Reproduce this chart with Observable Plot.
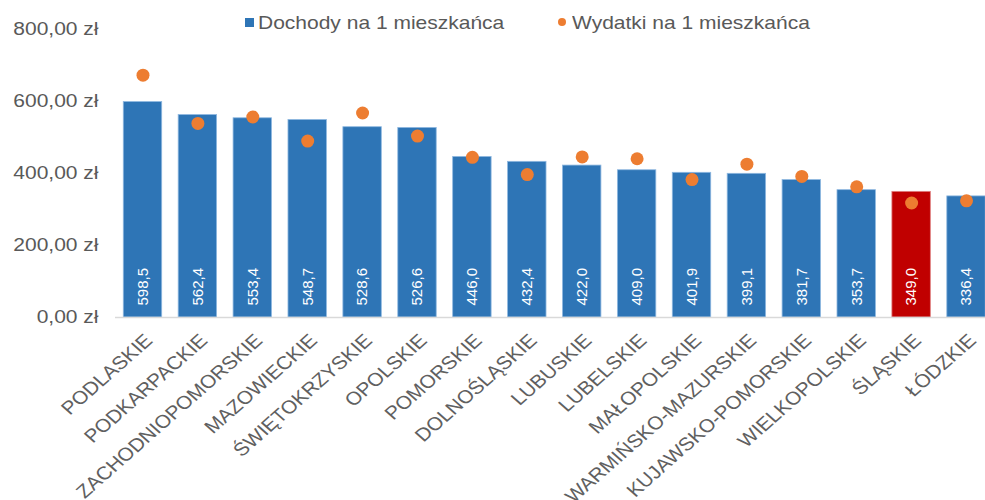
<!DOCTYPE html>
<html><head><meta charset="utf-8">
<script src="https://cdn.jsdelivr.net/npm/d3@7"></script>
<script src="https://cdn.jsdelivr.net/npm/@observablehq/plot@0.6"></script>
<style>
body{margin:0;background:#fff;}
#wrap{position:relative;width:985px;height:500px;overflow:hidden;font-family:"Liberation Sans",Arial,sans-serif;}
.lg{position:absolute;white-space:nowrap;font-size:18.5px;line-height:21px;color:#595959;transform:scaleX(1.135);transform-origin:left center;}
.sw{position:absolute;}
</style></head><body>
<div id="wrap">
  <div class="sw" style="left:245px;top:18px;width:9px;height:9px;background:#2E75B6"></div>
  <div class="lg" style="left:258px;top:11.5px">Dochody na 1 mieszkańca</div>
  <div class="sw" style="left:558px;top:18px;width:8px;height:8px;border-radius:50%;background:#ED7D31"></div>
  <div class="lg" style="left:572px;top:11.5px">Wydatki na 1 mieszkańca</div>
</div>
<script>
const regions = ["PODLASKIE","PODKARPACKIE","ZACHODNIOPOMORSKIE","MAZOWIECKIE","ŚWIĘTOKRZYSKIE","OPOLSKIE","POMORSKIE","DOLNOŚLĄSKIE","LUBUSKIE","LUBELSKIE","MAŁOPOLSKIE","WARMIŃSKO-MAZURSKIE","KUJAWSKO-POMORSKIE","WIELKOPOLSKIE","ŚLĄSKIE","ŁÓDZKIE"];
const income = [598.5,562.4,553.4,548.7,528.6,526.6,446.0,432.4,422.0,409.0,401.9,399.1,381.7,353.7,349.0,336.4];
const expenses = [673,539,557,490,568,504,445,397,446,441,383,426,392,363,318,324];
const yTicks = [0,200,400,600,800];
const highlight = "ŚLĄSKIE";

const data = regions.map((r,i)=>({region:r, income:income[i], expense:expenses[i]}));
const fmt1 = v => v.toFixed(1).replace(".", ",");
const fmtY = v => v.toFixed(2).replace(".", ",") + " zł";

const plot = Plot.plot({
  width: 985, height: 500,
  marginTop: 29, marginBottom: 183, marginLeft: 115, marginRight: 0,
  style: {fontFamily: "Liberation Sans, Arial, sans-serif", color: "#595959", background: "white", overflow: "hidden"},
  x: {domain: regions, range: [106.8, 1001.7], padding: 0.3, round: false},
  y: {domain: [0, 800]},
  marks: [
    Plot.barY(data, {x: "region", y: "income", fill: d => d.region === highlight ? "#C00000" : "#2E75B6", stroke: d => d.region === highlight ? "#e08080" : "#8fb8e0", strokeWidth: 0.8}),
    Plot.ruleY([0], {stroke: "#d9d9d9", strokeWidth: 1.5}),
    Plot.text(data, {x: "region", y: 0, text: d => fmt1(d.income), rotate: -90, textAnchor: "start", dy: -12, fill: "white", fontSize: 15}),
    Plot.dot(data, {x: "region", y: "expense", r: 6.5, fill: "#ED7D31"}),
    Plot.axisY({ticks: yTicks, tickFormat: fmtY, tickSize: 0, tickPadding: 17, fontSize: 18.5, label: null}),
    Plot.axisX({tickRotate: -45, tickSize: 0, tickPadding: 20, dx: 6, textAnchor: "end", lineAnchor: "middle", fontSize: 18.5, fill: "#606060", label: null})
  ]
});
document.getElementById("wrap").prepend(plot);
plot.style.position = "absolute"; plot.style.left = "0"; plot.style.top = "0";

// the reference image is stretched horizontally (~1.135) — mimic it on the texts
d3.select(plot).selectAll('g[aria-label="y-axis tick label"] text').each(function(){
  this.setAttribute("transform", (this.getAttribute("transform") || "") + " scale(1.135,1)");
});
d3.select(plot).selectAll('g[aria-label="x-axis tick label"] text').each(function(){
  const t = this.getAttribute("transform") || "";
  this.setAttribute("transform", t.replace("rotate(", "scale(1.135,1) rotate("));
});
</script>
</body></html>
